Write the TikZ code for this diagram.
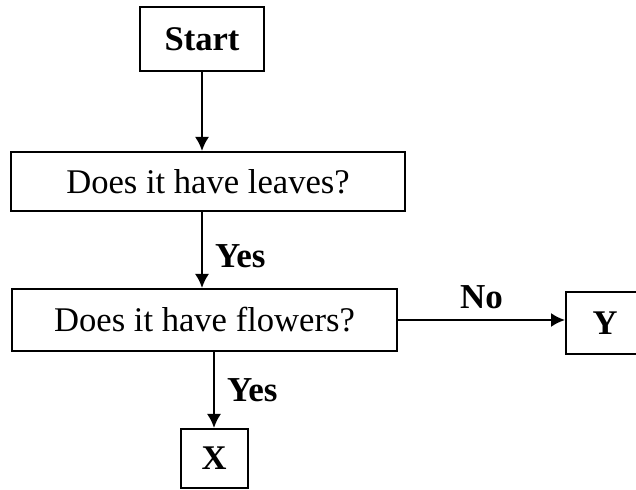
\documentclass[tikz,border=0pt]{standalone}
\usepackage{fontspec}
\setmainfont{Liberation Serif}
\usetikzlibrary{arrows.meta}
\begin{document}
\begin{tikzpicture}[x=0.5pt,y=-0.5pt,line width=1pt,
    box/.style={draw,inner sep=0pt,font=\fontsize{17.3}{20}\selectfont},
    bbox/.style={box,font=\fontsize{17.3}{20}\selectfont\bfseries},
    lbl/.style={inner sep=0pt,font=\fontsize{17.5}{20}\selectfont\bfseries},
    arr/.style={-{Latex[length=7pt,width=7pt]}}]
  \useasboundingbox (0,0) rectangle (636,490);
  % boxes
  \node[bbox,minimum width=62pt,minimum height=32pt] (start) at (202,39) {Start};
  \node[box,minimum width=197pt,minimum height=29.5pt] (leaves) at (208,181.5) {Does it have leaves?};
  \node[box,minimum width=192.5pt,minimum height=31pt] (flowers) at (204.5,320) {Does it have flowers?};
  \node[bbox,minimum width=39pt,minimum height=31pt] (y) at (605,323) {Y};
  \node[bbox,minimum width=33.5pt,minimum height=29.5pt] (x) at (214,458.5) {X};
  % arrows
  \draw[arr] (start) -- (start |- leaves.north);
  \draw[arr] (leaves.south -| start) -- node[lbl,right=6pt,pos=0.58] {Yes} (flowers.north -| start);
  \draw[arr] (flowers.south -| x) -- node[lbl,right=6pt] {Yes} (x);
  \draw[arr] (flowers.east) -- node[lbl,above=5pt] {No} (flowers.east -| y.west);
\end{tikzpicture}
\end{document}
